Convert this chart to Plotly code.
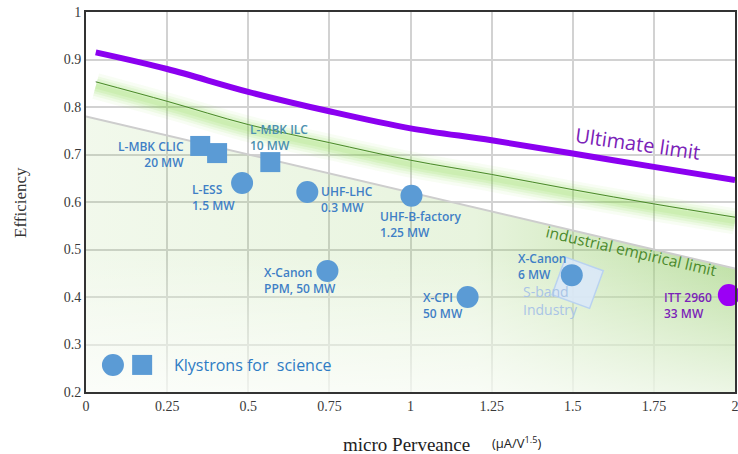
import plotly.graph_objects as go

# ---------------- data ----------------
ult_x = [0.03, 0.25, 0.5, 0.75, 1.0, 1.25, 1.5, 1.75, 2.0]
ult_y = [0.915, 0.880, 0.832, 0.791, 0.755, 0.730, 0.702, 0.674, 0.646]

ind_x = [0.03, 0.25, 0.5, 0.75, 1.0, 1.25, 1.5, 1.75, 2.0]
ind_y = [0.853, 0.812, 0.763, 0.725, 0.688, 0.658, 0.626, 0.596, 0.568]

emp_x = [0.0, 2.0]
emp_y = [0.78, 0.46]

circ_names = ["L-ESS", "UHF-LHC", "UHF-B-factory", "X-Canon PPM", "X-CPI", "X-Canon 6MW"]
circ_x = [0.481, 0.682, 1.003, 0.744, 1.176, 1.497]
circ_y = [0.640, 0.621, 0.613, 0.455, 0.400, 0.446]

sq_names = ["L-MBK CLIC a", "L-MBK CLIC b", "L-MBK ILC"]
sq_x = [0.352, 0.404, 0.568]
sq_y = [0.718, 0.703, 0.684]

itt_x = [1.981]
itt_y = [0.404]

sband_x = [1.515]
sband_y = [0.430]

x_ticks = [0, 0.25, 0.5, 0.75, 1, 1.25, 1.5, 1.75, 2]
x_ticktext = ["0", "0.25", "0.5", "0.75", "1", "1.25", "1.5", "1.75", "2"]
y_ticks = [0.2, 0.3, 0.4, 0.5, 0.6, 0.7, 0.8, 0.9, 1.0]
y_ticktext = ["0.2", "0.3", "0.4", "0.5", "0.6", "0.7", "0.8", "0.9", "1"]

Y_RANGE = [0.2, 1.0]
GLOW_DROP = 0.009   # glow drawn slightly below the thin line (style offset)

BLUE_TXT = "#3f7fc6"
PURP_TXT = "#7b22b8"
# labels: (text, anchor x, anchor y, xanchor, xshift, yshift, color, align)
labels = [
    ("L-MBK CLIC<br>20 MW", sq_x[0], sq_y[0], "right", -14, -9, BLUE_TXT, "right"),
    ("L-MBK ILC<br>10 MW", sq_x[2], sq_y[2], "left", -22, 25, "#4a8fb0", "left"),
    ("L-ESS<br>1.5 MW", circ_x[0], circ_y[0], "left", -52, -14, BLUE_TXT, "left"),
    ("UHF-LHC<br>0.3 MW", circ_x[1], circ_y[1], "left", 12, -7, BLUE_TXT, "left"),
    ("UHF-B-factory<br>1.25 MW", circ_x[2], circ_y[2], "left", -33, -29, BLUE_TXT, "left"),
    ("X-Canon<br>PPM, 50 MW", circ_x[3], circ_y[3], "left", -65, -10, BLUE_TXT, "left"),
    ("X-CPI<br>50 MW", circ_x[4], circ_y[4], "left", -47, -8, BLUE_TXT, "left"),
    ("X-Canon<br>6 MW", circ_x[5], circ_y[5], "left", -56, 9, BLUE_TXT, "left"),
    ("ITT 2960<br>33 MW", itt_x[0], itt_y[0], "left", -67, -10, PURP_TXT, "left"),
]

MARK_BLUE = "#5b9bd5"
SANS = "Open Sans"
SERIF = "Liberation Serif, Times New Roman, serif"

fig = go.Figure()

# shaded industrial area (horizontal gradient)
fig.add_trace(go.Scatter(
    x=emp_x, y=emp_y, mode="lines", fill="tozeroy",
    line=dict(color="rgba(205,205,205,1)", width=2),
    fillgradient=dict(type="horizontal", start=0, stop=2,
                      colorscale=[[0, "rgba(150,205,105,0.13)"],
                                  [0.6, "rgba(150,205,105,0.22)"],
                                  [1, "rgba(140,200,95,0.58)"]]),
    hoverinfo="skip", showlegend=False))
# white fade toward the bottom
fig.add_trace(go.Scatter(
    x=emp_x, y=emp_y, mode="lines", fill="tozeroy",
    line=dict(width=0, color="rgba(0,0,0,0)"),
    fillgradient=dict(type="vertical", start=0.2, stop=0.78,
                      colorscale=[[0, "rgba(255,255,255,0.72)"],
                                  [0.5, "rgba(255,255,255,0)"],
                                  [1, "rgba(255,255,255,0)"]]),
    hoverinfo="skip", showlegend=False))

# soft glow around industrial limit (on a shifted, hidden y axis)
for w, a in [(26, 0.05), (20, 0.07), (15, 0.09), (10, 0.11), (5, 0.10)]:
    fig.add_trace(go.Scatter(
        x=ind_x, y=ind_y, mode="lines", yaxis="y2",
        line=dict(color=f"rgba(115,210,45,{a})", width=w, shape="spline"),
        hoverinfo="skip", showlegend=False))
fig.add_trace(go.Scatter(
    x=ind_x, y=ind_y, mode="lines",
    line=dict(color="#3c6e2a", width=1, shape="spline"),
    hoverinfo="skip", showlegend=False))

# ultimate limit
fig.add_trace(go.Scatter(
    x=ult_x, y=ult_y, mode="lines",
    line=dict(color="#8b00f0", width=6, shape="spline"),
    hoverinfo="skip", showlegend=False))

# S-band industry box
fig.add_trace(go.Scatter(
    x=sband_x, y=sband_y, mode="markers",
    marker=dict(symbol="square", size=40, angle=20,
                color="rgba(218,232,248,0.9)",
                line=dict(color="rgba(185,210,240,1)", width=1.5)),
    hoverinfo="skip", showlegend=False))

# klystron markers
fig.add_trace(go.Scatter(
    x=sq_x, y=sq_y, mode="markers",
    marker=dict(symbol="square", size=20, color=MARK_BLUE, line=dict(width=0)),
    hovertext=sq_names, showlegend=False))
fig.add_trace(go.Scatter(
    x=circ_x, y=circ_y, mode="markers",
    marker=dict(symbol="circle", size=22, color=MARK_BLUE, line=dict(width=0)),
    hovertext=circ_names, showlegend=False))
fig.add_trace(go.Scatter(
    x=itt_x, y=itt_y, mode="markers", cliponaxis=False,
    marker=dict(symbol="circle", size=22, color="#9b00f5", line=dict(width=0)),
    hovertext=["ITT 2960"], showlegend=False))

# legend-like key
fig.add_trace(go.Scatter(
    x=[0.083], y=[0.257], mode="markers",
    marker=dict(symbol="circle", size=22, color=MARK_BLUE, line=dict(width=0)),
    hoverinfo="skip", showlegend=False))
fig.add_trace(go.Scatter(
    x=[0.173], y=[0.257], mode="markers",
    marker=dict(symbol="square", size=20, color=MARK_BLUE, line=dict(width=0)),
    hoverinfo="skip", showlegend=False))

annotations = []
for text, ax_, ay_, xa, xs, ys, col, al in labels:
    annotations.append(dict(
        x=ax_, y=ay_, xref="x", yref="y", text=text, showarrow=False,
        xanchor=xa, yanchor="middle", xshift=xs, yshift=ys, align=al,
        font=dict(family=SANS, size=12, color=col, weight=600)))

annotations += [
    dict(x=sband_x[0], y=sband_y[0], xref="x", yref="y", text="S-band<br>Industry",
         showarrow=False, xanchor="left", yanchor="middle", xshift=-57, yshift=-18,
         align="left", font=dict(family=SANS, size=14, color="#a9c4e6")),
    dict(x=0.265, y=0.257, xref="x", yref="y", text="Klystrons for  science",
         showarrow=False, xanchor="left", yanchor="middle",
         font=dict(family=SANS, size=16, color="#2e7bc4")),
    dict(x=1.70, y=0.724, xref="x", yref="y", text="Ultimate limit",
         showarrow=False, textangle=8,
         font=dict(family=SANS, size=20, color=PURP_TXT)),
    dict(x=1.682, y=0.497, xref="x", yref="y", text="industrial empirical limit",
         showarrow=False, textangle=13,
         font=dict(family=SANS, size=15.5, color="#4b8a2c")),
    dict(x=-0.1017, y=0.5, xref="paper", yref="paper", text="Efficiency",
         showarrow=False, textangle=-90, xanchor="center", yanchor="middle",
         font=dict(family=SERIF, size=17, color="#333333")),
    dict(x=0.4946, y=-0.139, xref="paper", yref="paper", text="micro Perveance",
         showarrow=False, xanchor="center", yanchor="middle",
         font=dict(family=SERIF, size=19, color="#222222")),
    dict(x=0.664, y=-0.132, xref="paper", yref="paper", text="(µA/V<sup>1.5</sup>)",
         showarrow=False, xanchor="center", yanchor="middle",
         font=dict(family=SANS, size=13, color="#222222")),
]

fig.update_layout(
    width=738, height=454,
    margin=dict(l=86, r=3, t=12, b=62, autoexpand=False),
    paper_bgcolor="white", plot_bgcolor="white",
    showlegend=False,
    annotations=annotations,
    xaxis=dict(range=[0, 2], tickvals=x_ticks, ticktext=x_ticktext,
               showgrid=True, gridcolor="#d2d2d2", gridwidth=2,
               zeroline=False, showline=True, linecolor="#333333", linewidth=2,
               mirror=True, ticks="", automargin=False, ticklabeloverflow="allow",
               tickfont=dict(family=SERIF, size=14, color="#3a3a3a")),
    yaxis=dict(range=Y_RANGE, tickvals=y_ticks, ticktext=y_ticktext,
               showgrid=True, gridcolor="#d2d2d2", gridwidth=2,
               zeroline=False, showline=True, linecolor="#333333", linewidth=2,
               mirror=True, ticks="", automargin=False, ticklabeloverflow="allow",
               tickfont=dict(family=SERIF, size=14, color="#3a3a3a")),
    yaxis2=dict(range=[Y_RANGE[0] + GLOW_DROP, Y_RANGE[1] + GLOW_DROP],
                overlaying="y", visible=False, showgrid=False, automargin=False),
)

fig.write_html("out.html",
               config={"displayModeBar": False},
               post_script="document.body.style.margin='0';document.body.style.overflow='hidden';")
